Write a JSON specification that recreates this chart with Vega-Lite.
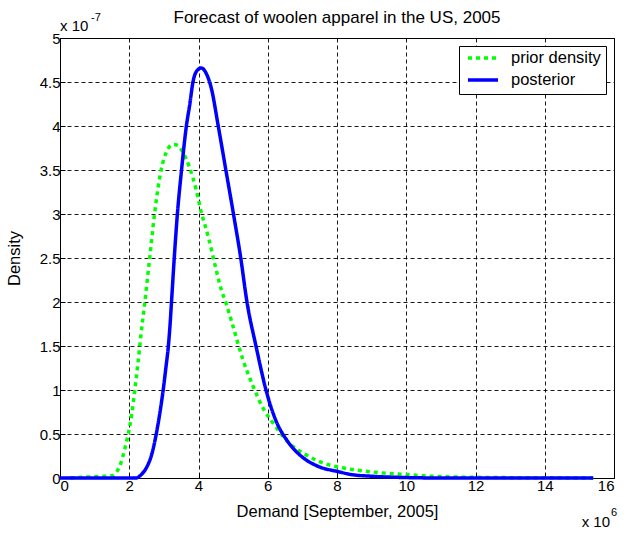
{
  "$schema": "https://vega.github.io/schema/vega-lite/v6.json",
  "width": 554,
  "height": 440,
  "autosize": "none",
  "padding": {"left": 60, "top": 38, "right": 17, "bottom": 55},
  "background": "white",
  "title": {
    "text": "Forecast of woolen apparel in the US, 2005",
    "font": "Liberation Sans",
    "fontSize": 17,
    "fontWeight": "normal",
    "color": "black",
    "offset": -15
  },
  "datasets": {
    "curves": [
      {"demand": 0, "density": 0, "series": "posterior"},
      {"demand": 1, "density": 0, "series": "posterior"},
      {"demand": 2, "density": 0, "series": "posterior"},
      {"demand": 2.2, "density": 0, "series": "posterior"},
      {"demand": 2.35, "density": 0.04, "series": "posterior"},
      {"demand": 2.5, "density": 0.12, "series": "posterior"},
      {"demand": 2.65, "density": 0.27, "series": "posterior"},
      {"demand": 2.78, "density": 0.5, "series": "posterior"},
      {"demand": 2.9, "density": 0.78, "series": "posterior"},
      {"demand": 2.98, "density": 1.0, "series": "posterior"},
      {"demand": 3.06, "density": 1.26, "series": "posterior"},
      {"demand": 3.13, "density": 1.5, "series": "posterior"},
      {"demand": 3.18, "density": 1.75, "series": "posterior"},
      {"demand": 3.22, "density": 2.0, "series": "posterior"},
      {"demand": 3.3, "density": 2.5, "series": "posterior"},
      {"demand": 3.39, "density": 3.0, "series": "posterior"},
      {"demand": 3.51, "density": 3.5, "series": "posterior"},
      {"demand": 3.65, "density": 4.0, "series": "posterior"},
      {"demand": 3.75, "density": 4.25, "series": "posterior"},
      {"demand": 3.84, "density": 4.5, "series": "posterior"},
      {"demand": 3.94, "density": 4.62, "series": "posterior"},
      {"demand": 4.08, "density": 4.66, "series": "posterior"},
      {"demand": 4.22, "density": 4.6, "series": "posterior"},
      {"demand": 4.37, "density": 4.43, "series": "posterior"},
      {"demand": 4.57, "density": 4.0, "series": "posterior"},
      {"demand": 4.79, "density": 3.5, "series": "posterior"},
      {"demand": 5.01, "density": 3.0, "series": "posterior"},
      {"demand": 5.22, "density": 2.5, "series": "posterior"},
      {"demand": 5.4, "density": 2.0, "series": "posterior"},
      {"demand": 5.66, "density": 1.5, "series": "posterior"},
      {"demand": 5.95, "density": 1.0, "series": "posterior"},
      {"demand": 6.02, "density": 0.9, "series": "posterior"},
      {"demand": 6.26, "density": 0.63, "series": "posterior"},
      {"demand": 6.55, "density": 0.43, "series": "posterior"},
      {"demand": 6.93, "density": 0.26, "series": "posterior"},
      {"demand": 7.41, "density": 0.14, "series": "posterior"},
      {"demand": 8.06, "density": 0.07, "series": "posterior"},
      {"demand": 8.4, "density": 0.04, "series": "posterior"},
      {"demand": 9, "density": 0.02, "series": "posterior"},
      {"demand": 10, "density": 0.005, "series": "posterior"},
      {"demand": 11, "density": 0, "series": "posterior"},
      {"demand": 15.4, "density": 0, "series": "posterior"},
      {"demand": 0.3, "density": 0, "series": "prior density"},
      {"demand": 0.7, "density": 0.01, "series": "prior density"},
      {"demand": 1.3, "density": 0.02, "series": "prior density"},
      {"demand": 1.54, "density": 0.03, "series": "prior density"},
      {"demand": 1.65, "density": 0.08, "series": "prior density"},
      {"demand": 1.73, "density": 0.14, "series": "prior density"},
      {"demand": 1.87, "density": 0.33, "series": "prior density"},
      {"demand": 1.97, "density": 0.5, "series": "prior density"},
      {"demand": 2.07, "density": 0.72, "series": "prior density"},
      {"demand": 2.16, "density": 1.0, "series": "prior density"},
      {"demand": 2.25, "density": 1.3, "series": "prior density"},
      {"demand": 2.33, "density": 1.6, "series": "prior density"},
      {"demand": 2.45, "density": 2.0, "series": "prior density"},
      {"demand": 2.59, "density": 2.5, "series": "prior density"},
      {"demand": 2.73, "density": 3.0, "series": "prior density"},
      {"demand": 2.92, "density": 3.5, "series": "prior density"},
      {"demand": 3.07, "density": 3.7, "series": "prior density"},
      {"demand": 3.26, "density": 3.79, "series": "prior density"},
      {"demand": 3.4, "density": 3.78, "series": "prior density"},
      {"demand": 3.55, "density": 3.7, "series": "prior density"},
      {"demand": 3.74, "density": 3.53, "series": "prior density"},
      {"demand": 3.93, "density": 3.28, "series": "prior density"},
      {"demand": 4.08, "density": 3.02, "series": "prior density"},
      {"demand": 4.27, "density": 2.76, "series": "prior density"},
      {"demand": 4.46, "density": 2.45, "series": "prior density"},
      {"demand": 4.65, "density": 2.15, "series": "prior density"},
      {"demand": 4.8, "density": 1.98, "series": "prior density"},
      {"demand": 5.0, "density": 1.72, "series": "prior density"},
      {"demand": 5.27, "density": 1.36, "series": "prior density"},
      {"demand": 5.58, "density": 1.04, "series": "prior density"},
      {"demand": 5.87, "density": 0.79, "series": "prior density"},
      {"demand": 6.16, "density": 0.62, "series": "prior density"},
      {"demand": 6.64, "density": 0.39, "series": "prior density"},
      {"demand": 7.12, "density": 0.26, "series": "prior density"},
      {"demand": 7.6, "density": 0.17, "series": "prior density"},
      {"demand": 8.09, "density": 0.12, "series": "prior density"},
      {"demand": 8.57, "density": 0.09, "series": "prior density"},
      {"demand": 9.24, "density": 0.06, "series": "prior density"},
      {"demand": 10.0, "density": 0.04, "series": "prior density"},
      {"demand": 10.5, "density": 0.025, "series": "prior density"},
      {"demand": 11, "density": 0.015, "series": "prior density"},
      {"demand": 12, "density": 0.008, "series": "prior density"},
      {"demand": 13, "density": 0.004, "series": "prior density"},
      {"demand": 14, "density": 0.002, "series": "prior density"},
      {"demand": 15.4, "density": 0.001, "series": "prior density"}
    ],
    "notes": [
      {"label": "x 10", "demand": 0, "density": 5, "part": "y base"},
      {"label": "-7", "demand": 0, "density": 5, "part": "y exp"},
      {"label": "x 10", "demand": 16, "density": 0, "part": "x base"},
      {"label": "6", "demand": 16, "density": 0, "part": "x exp"}
    ]
  },
  "encoding": {
    "x": {
      "field": "demand",
      "type": "quantitative",
      "scale": {"domain": [0, 16], "nice": false},
      "axis": {
        "title": "Demand [September, 2005]",
        "values": [0, 2, 4, 6, 8, 10, 12, 14, 16],
        "format": "~g",
        "labelPadding": 5,
        "titlePadding": 10
      }
    },
    "y": {
      "field": "density",
      "type": "quantitative",
      "scale": {"domain": [0, 5], "nice": false},
      "axis": {
        "title": "Density",
        "values": [0, 0.5, 1, 1.5, 2, 2.5, 3, 3.5, 4, 4.5, 5],
        "format": "~g",
        "labelPadding": 5,
        "titlePadding": 17
      }
    }
  },
  "layer": [
    {
      "data": {"name": "curves"},
      "transform": [{"filter": "datum.series === 'prior density'"}],
      "mark": {"type": "line", "interpolate": "monotone", "strokeWidth": 3.5, "strokeCap": "butt"},
      "encoding": {
        "color": {
          "field": "series",
          "type": "nominal",
          "scale": {"domain": ["prior density", "posterior"], "range": ["#00ff00", "#0000ff"]},
          "legend": {"title": null}
        },
        "strokeDash": {
          "field": "series",
          "type": "nominal",
          "scale": {"domain": ["prior density", "posterior"], "range": [[4, 4], [1, 0]]},
          "legend": {"title": null}
        }
      }
    },
    {
      "data": {"name": "curves"},
      "transform": [{"filter": "datum.series === 'posterior'"}],
      "mark": {"type": "line", "interpolate": "monotone", "strokeWidth": 3.5, "strokeCap": "butt"},
      "encoding": {
        "color": {"field": "series", "type": "nominal"},
        "strokeDash": {"field": "series", "type": "nominal"}
      }
    },
    {
      "data": {"name": "notes"},
      "transform": [{"filter": "datum.part === 'y base'"}],
      "mark": {"type": "text", "align": "left", "baseline": "bottom", "dy": -4, "fontSize": 15, "font": "Liberation Sans", "color": "black"},
      "encoding": {"text": {"field": "label"}}
    },
    {
      "data": {"name": "notes"},
      "transform": [{"filter": "datum.part === 'y exp'"}],
      "mark": {"type": "text", "align": "left", "baseline": "bottom", "dx": 31, "dy": -15, "fontSize": 11, "font": "Liberation Sans", "color": "black"},
      "encoding": {"text": {"field": "label"}}
    },
    {
      "data": {"name": "notes"},
      "transform": [{"filter": "datum.part === 'x base'"}],
      "mark": {"type": "text", "align": "right", "baseline": "bottom", "dx": -4, "dy": 52, "fontSize": 15, "font": "Liberation Sans", "color": "black"},
      "encoding": {"text": {"field": "label"}}
    },
    {
      "data": {"name": "notes"},
      "transform": [{"filter": "datum.part === 'x exp'"}],
      "mark": {"type": "text", "align": "left", "baseline": "bottom", "dx": -3, "dy": 40, "fontSize": 11, "font": "Liberation Sans", "color": "black"},
      "encoding": {"text": {"field": "label"}}
    }
  ],
  "config": {
    "view": {"stroke": "black", "strokeWidth": 1},
    "axis": {
      "grid": true,
      "gridColor": "black",
      "gridDash": [4, 3],
      "gridOpacity": 0.9,
      "gridWidth": 1,
      "domainColor": "black",
      "tickColor": "black",
      "tickSize": -5,
      "labelFont": "Liberation Sans",
      "labelFontSize": 15,
      "labelColor": "black",
      "titleFont": "Liberation Sans",
      "titleFontSize": 16.5,
      "titleFontWeight": "normal",
      "titleColor": "black"
    },
    "legend": {
      "orient": "top-right",
      "offset": 8,
      "strokeColor": "black",
      "fillColor": "white",
      "padding": 5,
      "rowPadding": 5,
      "clipHeight": 14,
      "labelFont": "Liberation Sans",
      "labelFontSize": 16.5,
      "labelColor": "black",
      "labelOffset": 11,
      "symbolOffset": 2,
      "symbolType": "stroke",
      "symbolSize": 900,
      "symbolStrokeWidth": 3.5,
      "cornerRadius": 0
    }
  }
}
